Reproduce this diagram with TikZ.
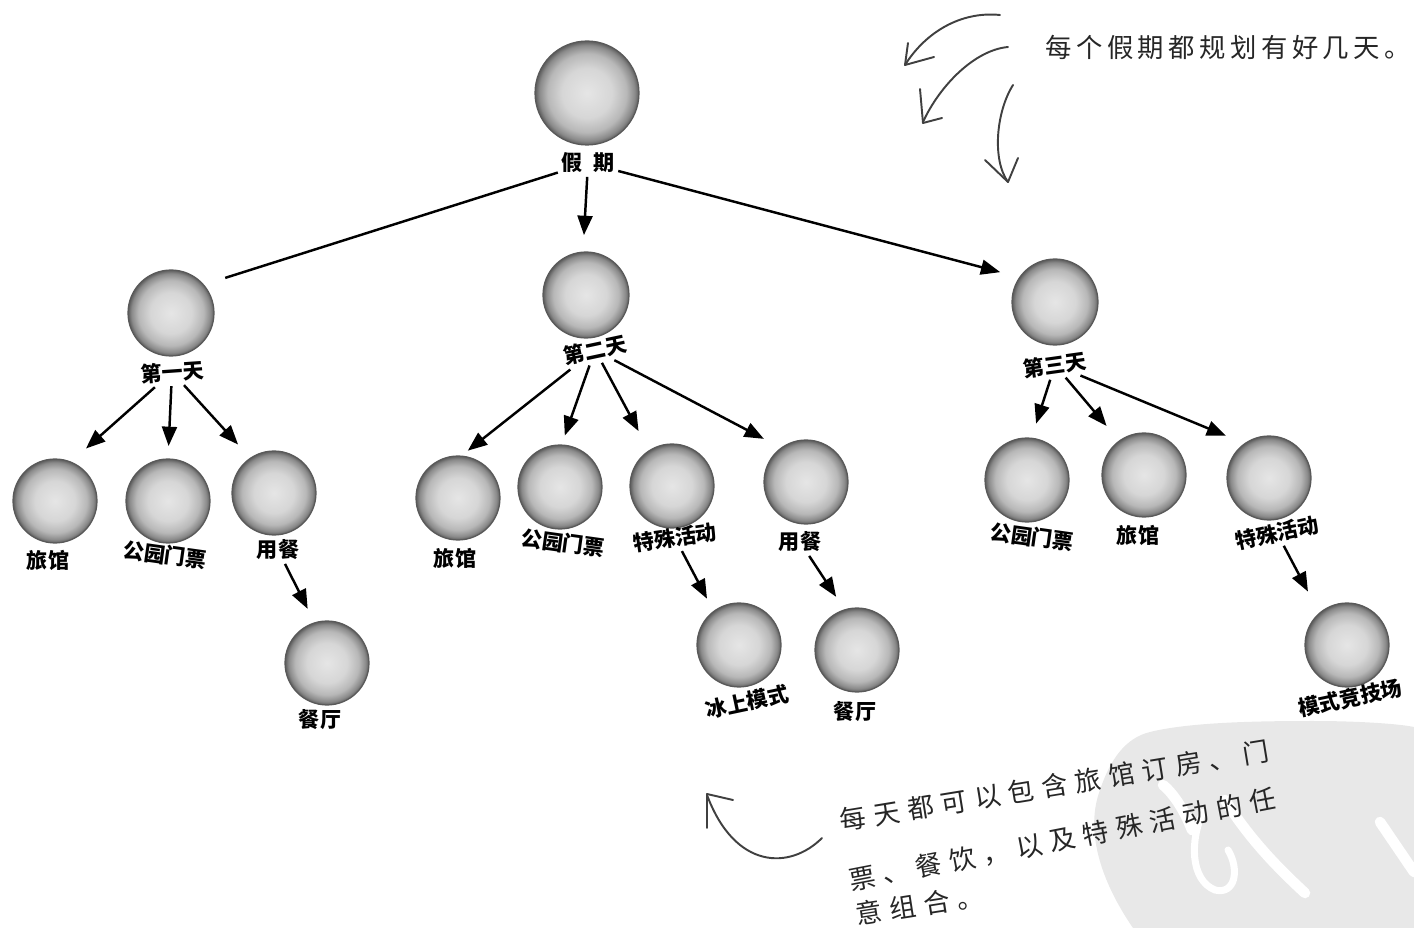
\documentclass[tikz,border=0pt]{standalone}
\usepackage{fontspec}
\setmainfont{Noto Sans CJK SC}
\usetikzlibrary{arrows.meta}
\pgfdeclareradialshading{ballgray}{\pgfpoint{0bp}{0bp}}{color(0bp)=(black!10); color(12bp)=(black!16); color(19bp)=(black!28); color(23bp)=(black!46); color(25bp)=(black!64); color(50bp)=(black!64)}
\tikzset{
  ball/.style={circle, inner sep=0pt, outer sep=0pt, minimum size=1.68cm, shading=ballgray, draw=black!65, line width=0.7pt},
  bigball/.style={ball, minimum size=2.08cm},
  dayball/.style={ball, minimum size=1.72cm},
  lbl/.style={font=\bfseries\fontsize{12}{14}\selectfont, inner sep=2pt},
  arr/.style={line width=1.4pt, -{Triangle[length=11pt,width=8.5pt]}},
  plainline/.style={line width=1.4pt},
  note/.style={font=\fontsize{15}{18}\selectfont\addfontfeatures{LetterSpace=#1}, text=black!85, inner sep=0pt},
  curl/.style={line width=1.1pt, black!75, line cap=round, line join=round},
  wm/.style={white, line width=5pt, line cap=round},
}
\begin{document}
\begin{tikzpicture}[x=0.02cm, y=-0.02cm]
\useasboundingbox (0,0) rectangle (1414,928);

% watermark background
\fill[black!9] (1133,928) .. controls (1100,880) and (1085,830) .. (1100,790)
  .. controls (1110,760) and (1125,738) .. (1150,732)
  .. controls (1190,722) and (1260,721) .. (1313,721)
  .. controls (1360,721) and (1400,724) .. (1414,727) -- (1414,928) -- cycle;
\draw[wm, line width=6pt] (1163,785) .. controls (1175,795) and (1185,812) .. (1192,830);
\draw[wm, line width=4pt] (1203,812) .. controls (1190,840) and (1190,880) .. (1215,890)
  .. controls (1235,895) and (1240,870) .. (1228,850);
\draw[wm, line width=6pt] (1225,800) .. controls (1250,840) and (1280,870) .. (1305,893);
\draw[wm, line width=6pt] (1380,822) -- (1414,872);

% root
\node[bigball] (root) at (587,93) {};
\node[lbl] (rootlab) at (588,163) {假\hspace{6pt}期};

% day nodes
\node[dayball] (d1) at (171,313) {};
\node[lbl, rotate=4] (d1lab) at (172,372) {第一天};
\node[dayball] (d2) at (586,295) {};
\node[lbl, rotate=12] (d2lab) at (595,350) {第二天};
\node[dayball] (d3) at (1055,302) {};
\node[lbl, rotate=8] (d3lab) at (1055,365) {第三天};

% day 1 children
\node[ball] (h1) at (55,501) {};
\node[lbl] (h1lab) at (48,560) {旅馆};
\node[ball] (p1) at (168,501) {};
\node[lbl, rotate=-8] (p1lab) at (165,555) {公园门票};
\node[ball] (m1) at (274,493) {};
\node[lbl] (m1lab) at (278,550) {用餐};
\node[ball] (r1) at (327,663) {};
\node[lbl] (r1lab) at (320,720) {餐厅};

% day 2 children
\node[ball] (h2) at (458,498) {};
\node[lbl] (h2lab) at (455,558) {旅馆};
\node[ball] (p2) at (560,487) {};
\node[lbl, rotate=-8] (p2lab) at (563,543) {公园门票};
\node[ball] (s2) at (672,486) {};
\node[lbl, rotate=8] (s2lab) at (675,538) {特殊活动};
\node[ball] (m2) at (806,482) {};
\node[lbl] (m2lab) at (800,542) {用餐};
\node[ball] (ice) at (739,645) {};
\node[lbl, rotate=12] (icelab) at (747,702) {冰上模式};
\node[ball] (r2) at (857,650) {};
\node[lbl] (r2lab) at (855,712) {餐厅};

% day 3 children
\node[ball] (p3) at (1027,480) {};
\node[lbl, rotate=-8] (p3lab) at (1032,537) {公园门票};
\node[ball] (h3) at (1144,475) {};
\node[lbl] (h3lab) at (1138,535) {旅馆};
\node[ball] (s3) at (1269,478) {};
\node[lbl, rotate=12] (s3lab) at (1277,533) {特殊活动};
\node[ball] (arena) at (1347,645) {};
\node[lbl, rotate=12] (arenalab) at (1350,698) {模式竞技场};

% connectors
\draw[plainline, shorten >=13pt] (rootlab) -- (d1.41);
\draw[arr, shorten >=9.7pt] (rootlab) -- (d2.94);
\draw[arr, shorten >=11.5pt] (rootlab) -- (d3.145);

\draw[arr, shorten >=11.6pt] (d1lab) -- (h1.68);
\draw[arr, shorten >=7.4pt] (d1lab) -- (p1.90);
\draw[arr, shorten >=10.5pt] (d1lab) -- (m1.124);
\draw[arr, shorten >=8.9pt] (m1lab) -- (r1.107);

\draw[arr, shorten >=5pt] (d2lab) -- (h2.86);
\draw[arr, shorten >=5.7pt] (d2lab) -- (p2.88);
\draw[arr, shorten >=12.7pt] (d2lab) -- (s2.123);
\draw[arr, shorten >=11.2pt] (d2lab) -- (m2.126);
\draw[arr, shorten >=8.2pt] (s2lab) -- (ice.127);
\draw[arr, shorten >=8.9pt] (m2lab) -- (r2.107);

\draw[arr, shorten >=8.7pt] (d3lab) -- (p3.84);
\draw[arr, shorten >=11.2pt] (d3lab) -- (h3.126);
\draw[arr, shorten >=11.6pt] (d3lab) -- (s3.125);
\draw[arr, shorten >=14pt] (s3lab) -- (arena.131);

% top-right annotation
\node[note=17, anchor=west] (topnote) at (1045,47) {每个假期都规划有好几天。};
\draw[curl] (1000,15) .. controls (960,11) and (925,33) .. (905,65);
\draw[curl] (934,57) -- (905,65) -- (908,43);
\draw[curl] (1008,47) .. controls (975,50) and (940,85) .. (923,122);
\draw[curl] (942,118) -- (923,123) -- (920,89);
\draw[curl] (1013,85) .. controls (996,112) and (992,160) .. (1008,182);
\draw[curl] (985,160) -- (1008,182) -- (1018,158);

% bottom annotation
\node[note=29, anchor=west, rotate=9.3] (bn1) at (840,821) {每天都可以包含旅馆订房、门};
\node[note=29, anchor=west, rotate=11] (bn2) at (849,881) {票、餐饮，以及特殊活动的任};
\node[note=29, anchor=west, rotate=9] (bn3) at (856,915) {意组合。};
\draw[curl] (822,838) .. controls (790,870) and (735,870) .. (707,795);
\draw[curl] (733,800) -- (707,794) -- (707,828);
\end{tikzpicture}
\end{document}
